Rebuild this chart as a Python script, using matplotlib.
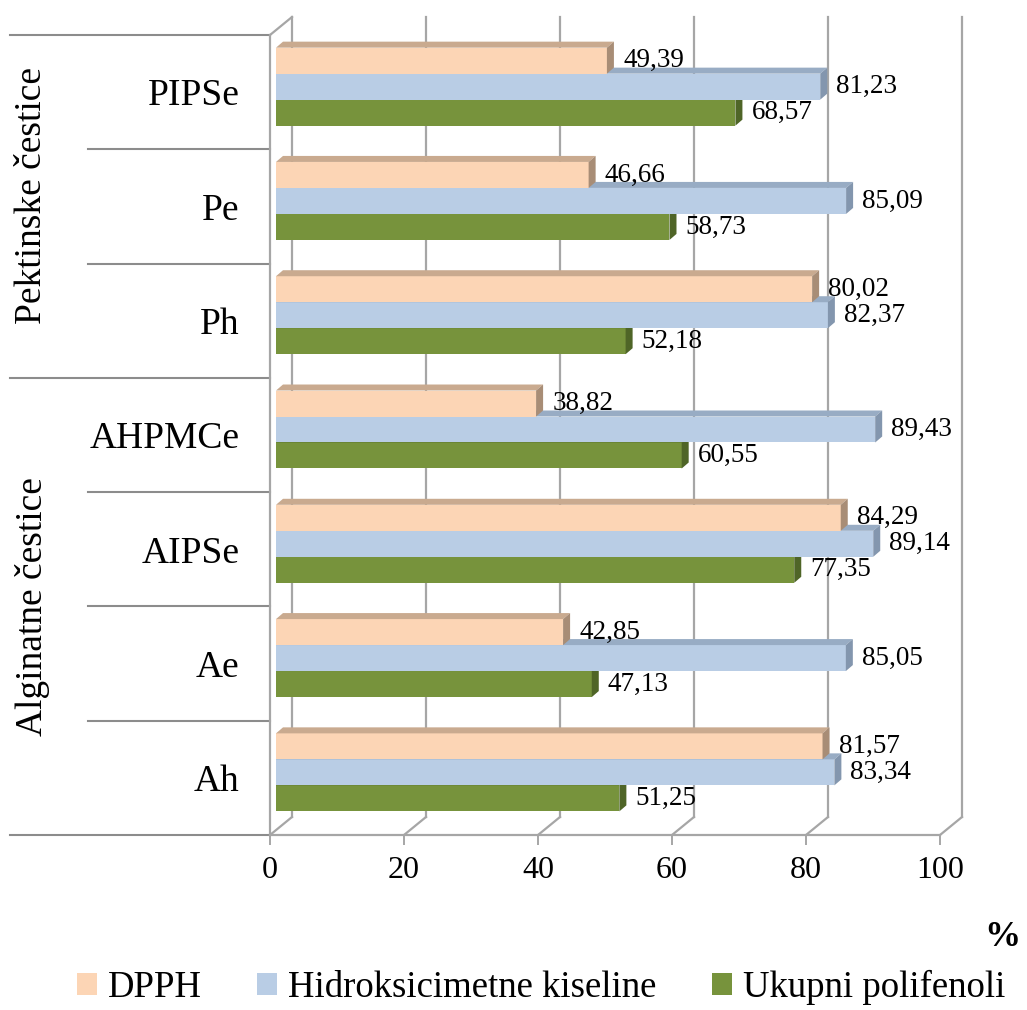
import matplotlib
matplotlib.use('Agg')
from matplotlib import pyplot as plt
from matplotlib.patches import Polygon, Patch

plt.rcParams['font.family'] = ['Liberation Serif', 'DejaVu Serif']

categories = ['Ah', 'Ae', 'AIPSe', 'AHPMCe', 'Ph', 'Pe', 'PIPSe']
groups = ['Alginatne čestice', 'Pektinske čestice']
dpph = [81.57, 42.85, 84.29, 38.82, 80.02, 46.66, 49.39]
hidroks = [83.34, 85.05, 89.14, 89.43, 82.37, 85.09, 81.23]
polifenoli = [51.25, 47.13, 77.35, 60.55, 52.18, 58.73, 68.57]
series_names = ['DPPH', 'Hidroksicimetne kiseline', 'Ukupni polifenoli']
x_ticks = [0, 20, 40, 60, 80, 100]

# front, top, side colours for each series
colors = {
    'DPPH': ('#FCD5B5', '#C9AA8F', '#A88D76'),
    'Hidroksicimetne kiseline': ('#B9CDE5', '#98ACC4', '#8396AE'),
    'Ukupni polifenoli': ('#77933C', '#5E7830', '#4F6527'),
}

# pseudo 3D offsets (data units)
px_x = 6.7       # px per x unit
px_y = 114.3     # px per category
dx0, dy0 = 6 / px_x, 5.5 / px_y      # bar front face shift
ddx, ddy = 7 / px_x, 6 / px_y        # bar depth
wx, wy = 22 / px_x, 18 / px_y        # wall depth
h = 26 / px_y
grid_c = '#A6A6A6'
line_c = '#8C8C8C'

fig = plt.figure(figsize=(10.27, 10.10), dpi=100)
ax = fig.add_axes([270 / 1027, 175 / 1010, 670 / 1027, 800 / 1010])
ax.set_xlim(0, 100)
ax.set_ylim(-0.5, 6.5)

# back wall grid and floor
for x in x_ticks:
    ax.plot([x + wx, x + wx], [-0.5 + wy, 6.5 + wy], color=grid_c, lw=1.6,
            zorder=1, clip_on=False)
    ax.plot([x, x + wx], [-0.5, -0.5 + wy], color=grid_c, lw=1.6,
            zorder=1, clip_on=False)
ax.plot([0, wx], [6.5, 6.5 + wy], color=grid_c, lw=1.6, zorder=1, clip_on=False)

# bars, bottom bar first so upper bars cover their top faces
series = [('Ukupni polifenoli', polifenoli, -1),
          ('Hidroksicimetne kiseline', hidroks, 0),
          ('DPPH', dpph, 1)]
for k, (name, vals, pos) in enumerate(series):
    front, top, side = colors[name]
    z = 3 + k * 0.1
    ys = [i + pos * h + dy0 for i in range(len(categories))]
    ax.barh(ys, vals, height=h, left=dx0, color=front, zorder=z, clip_on=False)
    for y, v in zip(ys, vals):
        yt, yb = y + h / 2, y - h / 2
        xe = v + dx0
        ax.add_patch(Polygon([(dx0, yt), (xe, yt), (xe + ddx, yt + ddy),
                              (dx0 + ddx, yt + ddy)], closed=True,
                             facecolor=top, edgecolor='none', zorder=z, clip_on=False))
        ax.add_patch(Polygon([(xe, yb), (xe, yt), (xe + ddx, yt + ddy),
                              (xe + ddx, yb + ddy)], closed=True,
                             facecolor=side, edgecolor='none', zorder=z, clip_on=False))
        ax.text(v + 3.3, y, f'{v:.2f}'.replace('.', ','), fontsize=19.5,
                ha='left', va='center', zorder=10, clip_on=False)

# axes styling
for s in ['top', 'right']:
    ax.spines[s].set_visible(False)
ax.spines['left'].set_color(grid_c)
ax.spines['bottom'].set_color(grid_c)
ax.spines['left'].set_linewidth(1.6)
ax.spines['bottom'].set_linewidth(1.6)
ax.set_xticks(x_ticks)
ax.set_xticklabels([str(t) for t in x_ticks])
ax.tick_params(axis='x', length=7.2, width=1.4, color=grid_c, labelsize=23, pad=8)
ax.set_yticks(range(len(categories)))
ax.set_yticklabels(categories)
ax.tick_params(axis='y', length=0, labelsize=27, pad=22)

# left table lines for the category groups
for y in [-0.5, 3.5, 6.5]:
    ax.plot([-38.8, 0], [y, y], color=line_c, lw=1.5, clip_on=False)
for y in [0.5, 1.5, 2.5, 4.5, 5.5]:
    ax.plot([-27.2, 0], [y, y], color=line_c, lw=1.5, clip_on=False)
ax.text(-35.5, 1.5, groups[0], rotation=90, fontsize=27, ha='center', va='center',
        clip_on=False)
ax.text(-35.5, 5.1, groups[1], rotation=90, fontsize=27, ha='center', va='center',
        clip_on=False)

fig.text(1002 / 1027, 1 - 938 / 1010, '%', fontsize=26, fontweight='bold',
         ha='center', va='center')

handles = [Patch(facecolor=colors[n][0]) for n in series_names]
fig.legend(handles, series_names, loc='lower center', bbox_to_anchor=(0.527, -0.028),
           ncol=3, frameon=False, fontsize=26.5, handlelength=0.55, handleheight=0.55,
           handletextpad=0.3, columnspacing=1.5)

fig.savefig('out.png', dpi=100)
